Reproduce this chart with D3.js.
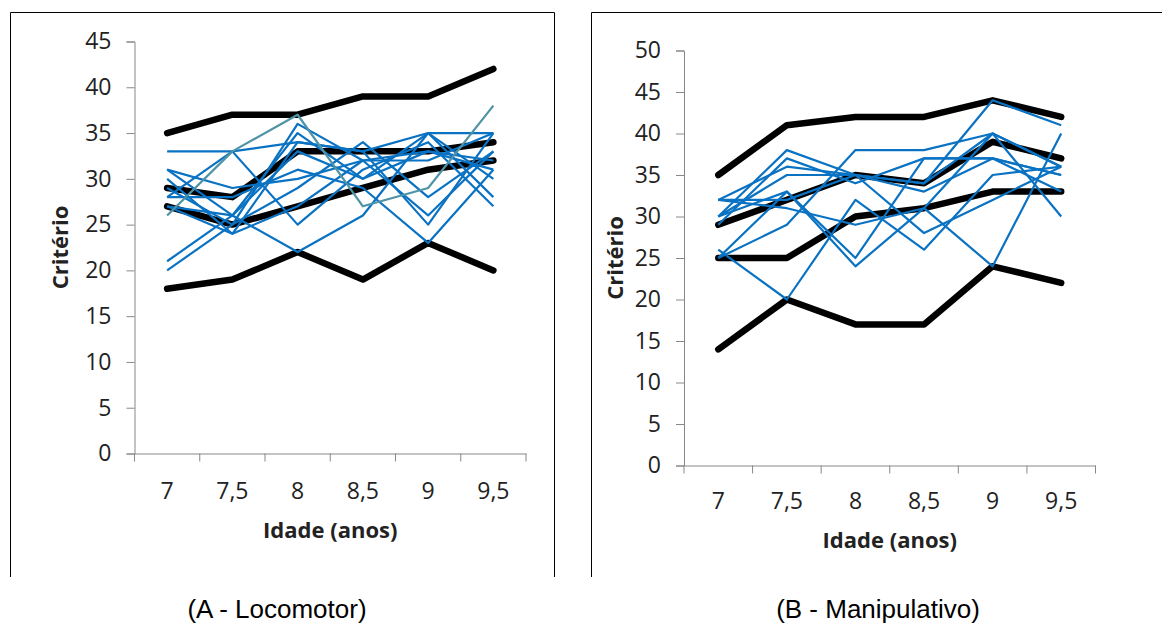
<!DOCTYPE html>
<html>
<head>
<meta charset="utf-8">
<script src="https://cdn.jsdelivr.net/npm/d3@7"></script>
<style>
  html, body { margin: 0; padding: 0; background: #fff; }
  svg { display: block; }
</style>
</head>
<body>
<svg id="chart" width="1162" height="626"></svg>
<script>
// Age categories (x axis) shared by both panels
const ages = ["7", "7,5", "8", "8,5", "9", "9,5"];

// Panel A - Locomotor: reference criterion curves (thick black)
const locoCriteria = [
  [35, 37, 37, 39, 39, 42],
  [29, 28, 33, 33, 33, 34],
  [27, 25, 27, 29, 31, 32],
  [18, 19, 22, 19, 23, 20]
];
// Panel A - individual trajectories (blue)
const locoChildren = [
  [33, 33, 34, 33, 35, 35],
  [31, 29, 30, 32, 33, 32],
  [20, 25, 36, 32, 26, 33],
  [21, 26, 35, 30, 35, 28],
  [30, 24, 34, 33, 25, 35],
  [28, 33, 25, 31, 34, 27],
  [27, 26, 22, 26, 35, 30],
  [29, 25, 29, 34, 28, 33],
  [28, 28, 31, 29, 23, 31],
  [27, 24, 27, 32, 32, 35],
  [31, 26, 33, 30, 33, 31]
];
// Panel A - highlighted trajectory (teal)
const locoHighlight = [26, 33, 37, 27, 29, 38];

// Panel B - Manipulativo: reference criterion curves (thick black)
const maniCriteria = [
  [35, 41, 42, 42, 44, 42],
  [29, 32, 35, 34, 39, 37],
  [25, 25, 30, 31, 33, 33],
  [14, 20, 17, 17, 24, 22]
];
// Panel B - individual trajectories (blue)
const maniChildren = [
  [32, 32, 35, 34, 44, 41],
  [30, 38, 35, 34, 40, 36],
  [25, 29, 38, 38, 40, 36],
  [32, 36, 35, 33, 37, 35],
  [29, 37, 34, 37, 37, 35],
  [26, 20, 32, 26, 35, 36],
  [25, 33, 24, 31, 40, 30],
  [30, 33, 25, 37, 37, 33],
  [32, 31, 29, 31, 24, 40],
  [30, 35, 35, 28, 32, 36]
];

const yTicksA = d3.range(0, 46, 5);
const yTicksB = d3.range(0, 51, 5);

const svg = d3.select("#chart");

// Outer frames (open at the bottom)
function frame(x0, x1) {
  const p = d3.path();
  p.moveTo(x0, 577); p.lineTo(x0, 12.5); p.lineTo(x1, 12.5); p.lineTo(x1, 577);
  svg.append("path").attr("d", p.toString())
    .attr("fill", "none").attr("stroke", "#000").attr("stroke-width", 1);
}
frame(10.5, 554.5);
frame(591.5, 1175);

function styleTicks(axisG) {
  axisG.attr("font-family", "Open Sans, sans-serif").attr("font-size", 23);
  axisG.selectAll(".tick text").attr("fill", "#222");
}

function panel(opt) {
  const g = svg.append("g");
  const x = d3.scaleBand().domain(ages).range([opt.x0, opt.x1]);
  const y = d3.scaleLinear().domain([0, opt.yMax]).range([opt.y0, opt.y1]);

  // y axis
  const ya = g.append("g").attr("transform", `translate(${opt.x0},0)`)
    .call(d3.axisLeft(y).tickValues(opt.yTicks).tickSize(8).tickPadding(15).tickFormat(d3.format("d")));
  styleTicks(ya);
  ya.select(".domain").attr("stroke", "#888");
  ya.selectAll(".tick line").attr("stroke", "#888");

  // x axis with tick marks on category boundaries
  const xa = g.append("g").attr("transform", `translate(0,${opt.y0})`)
    .call(d3.axisBottom(x).tickSize(0).tickPadding(opt.xPad));
  styleTicks(xa);
  xa.select(".domain").attr("stroke", "#888");
  xa.selectAll(".tick text").attr("dy", "0");
  const bounds = ages.map(a => x(a)).concat([x(ages[ages.length - 1]) + x.bandwidth()]);
  g.selectAll(".xb").data(bounds).join("line")
    .attr("x1", d => d).attr("x2", d => d)
    .attr("y1", opt.y0).attr("y2", opt.y0 + 8)
    .attr("stroke", "#888");

  const line = d3.line()
    .x((d, i) => x(ages[i]) + x.bandwidth() / 2)
    .y(d => y(d));

  g.selectAll(".crit").data(opt.criteria).join("path")
    .attr("d", line).attr("fill", "none")
    .attr("stroke", "#000").attr("stroke-width", 6.5)
    .attr("stroke-linejoin", "round").attr("stroke-linecap", "round");

  g.selectAll(".kid").data(opt.children).join("path")
    .attr("d", line).attr("fill", "none")
    .attr("stroke", "#0a72c2").attr("stroke-width", 2.2)
    .attr("stroke-linejoin", "round");

  if (opt.highlight) {
    g.append("path").datum(opt.highlight)
      .attr("d", line).attr("fill", "none")
      .attr("stroke", "#4f93a6").attr("stroke-width", 2.2)
      .attr("stroke-linejoin", "round");
  }

  // axis titles
  g.append("text")
    .attr("transform", `translate(${opt.yLabelX},${(opt.y0 + opt.y1) / 2}) rotate(-90)`)
    .attr("text-anchor", "middle")
    .attr("font-family", "Open Sans, sans-serif").attr("font-weight", "bold")
    .attr("font-size", 22).attr("fill", "#222")
    .text("Critério");
  g.append("text")
    .attr("x", (opt.x0 + opt.x1) / 2).attr("y", opt.xLabelY)
    .attr("text-anchor", "middle")
    .attr("font-family", "Open Sans, sans-serif").attr("font-weight", "bold")
    .attr("font-size", 22).attr("fill", "#222")
    .text("Idade (anos)");

  // caption
  svg.append("text")
    .attr("x", opt.capX).attr("y", 618)
    .attr("text-anchor", "middle")
    .attr("font-family", "Liberation Sans, Arial, sans-serif")
    .attr("font-size", 26).attr("fill", "#000")
    .text(opt.caption);
}

panel({
  x0: 134.5, x1: 526, y0: 453.5, y1: 41.5, yMax: 45, yTicks: yTicksA, xPad: 45,
  criteria: locoCriteria, children: locoChildren, highlight: locoHighlight,
  yLabelX: 68, xLabelY: 538, capX: 277, caption: "(A - Locomotor)"
});

panel({
  x0: 684, x1: 1095.5, y0: 465.5, y1: 50.5, yMax: 50, yTicks: yTicksB, xPad: 43,
  criteria: maniCriteria, children: maniChildren, highlight: null,
  yLabelX: 623, xLabelY: 548, capX: 878, caption: "(B - Manipulativo)"
});
</script>
</body>
</html>
